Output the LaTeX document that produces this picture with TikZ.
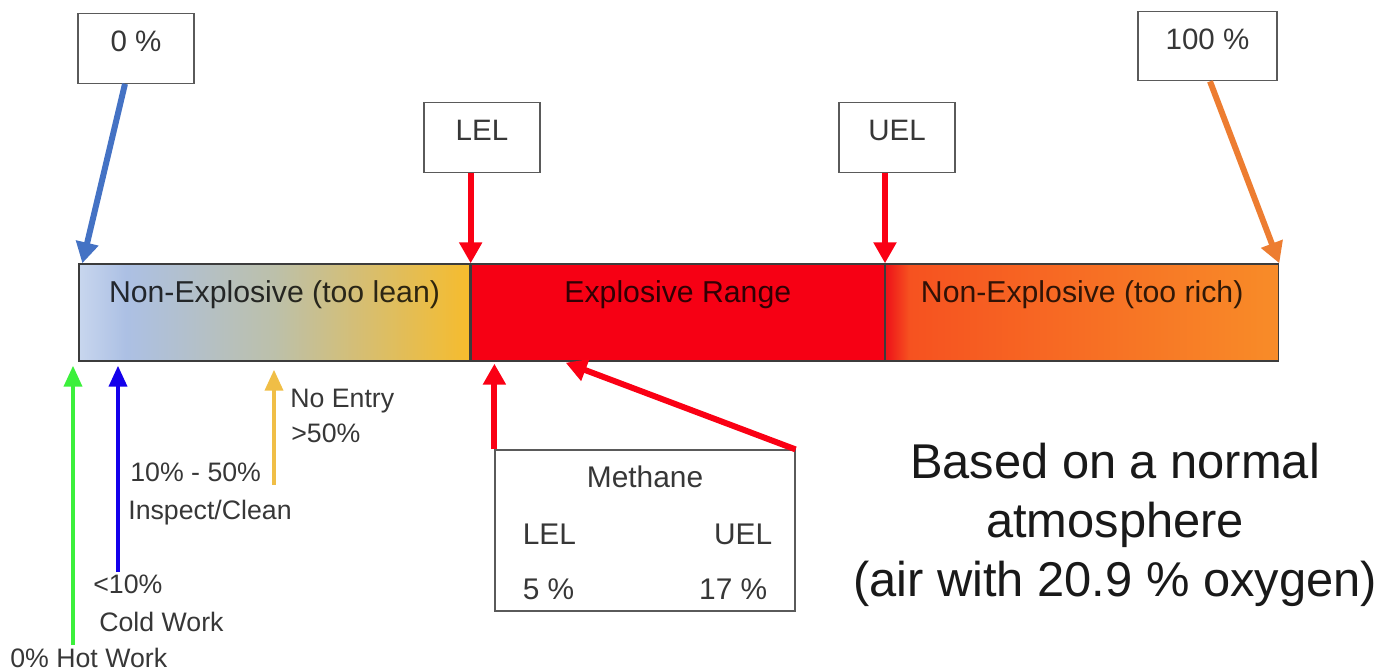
\documentclass[tikz,border=0pt]{standalone}
\usepackage{fontspec}
\setmainfont{Liberation Sans}
\usetikzlibrary{positioning,arrows.meta}

\definecolor{txtgray}{RGB}{55,55,55}
\definecolor{boxgray}{RGB}{90,90,90}
\definecolor{bargray}{RGB}{60,60,60}
\definecolor{topblue}{RGB}{68,114,196}
\definecolor{fullorange}{RGB}{237,125,49}
\definecolor{redarrow}{RGB}{250,0,20}
\definecolor{boomred}{RGB}{246,0,20}
\definecolor{hotgreen}{RGB}{60,240,60}
\definecolor{coldblue}{RGB}{20,0,235}
\definecolor{entryyellow}{RGB}{240,190,70}
\definecolor{lean1}{RGB}{200,214,238}
\definecolor{lean2}{RGB}{172,192,228}
\definecolor{lean3}{RGB}{188,192,170}
\definecolor{lean4}{RGB}{246,188,45}
\definecolor{rich1}{RGB}{238,18,25}
\definecolor{rich2}{RGB}{246,82,32}
\definecolor{rich3}{RGB}{248,140,40}

\pgfdeclarehorizontalshading{leanshade}{100bp}{color(0bp)=(lean1); color(25bp)=(lean1);
  color(31bp)=(lean2); color(50bp)=(lean3); color(75bp)=(lean4); color(100bp)=(lean4)}
\pgfdeclarehorizontalshading{richshade}{100bp}{color(0bp)=(rich1); color(25bp)=(rich1);
  color(28bp)=(rich2); color(75bp)=(rich3); color(100bp)=(rich3)}

\begin{document}
\begin{tikzpicture}[x=0.02cm,y=-0.02cm,
  pctbox/.style={draw=boxgray,line width=0.7pt,fill=white,inner sep=0pt,
    minimum width=2.32cm,text height=0.76cm,text depth=0.63cm,
    font=\fontsize{16.8}{20}\selectfont,text=txtgray},
  barpart/.style={draw=bargray,line width=0.8pt,inner sep=0pt,
    minimum width=7.82cm,minimum height=1.94cm,text height=0.76cm,text depth=1.18cm,
    font=\fontsize{17.2}{20}\selectfont,text=black,text opacity=0.8},
  bigarrow/.style={line width=3.4pt,-{Triangle[width=0.44cm,length=0.42cm]}},
  smallarrow/.style={line width=2.2pt,-{Triangle[width=0.36cm,length=0.42cm]}},
  note/.style={anchor=base west,inner sep=0pt,font=\fontsize{15.2}{18}\selectfont,text=txtgray},
  inbox/.style={inner sep=0pt,font=\fontsize{17}{20}\selectfont,text=txtgray}]
\useasboundingbox (0,0) rectangle (1395,670);

% the bar
\node[barpart,shading=leanshade] (lean) at (274.5,312.5) {Non-Explosive (too lean)};
\node[barpart,fill=boomred,minimum width=8.26cm,right=0pt of lean] (boom) {Explosive Range};
\node[barpart,shading=richshade,minimum width=7.86cm,right=0pt of boom] (rich) {Non-Explosive (too rich)};

% limits above the bar
\node[pctbox] (zero) at (136,48.5) {0 \%};
\node[pctbox,minimum width=2.78cm] (full) at (1207.5,46) {100 \%};
\node[pctbox] (lel) at (482,137.5) {LEL};
\node[pctbox] (uel) at (897,137.5) {UEL};

\draw[bigarrow,topblue] ([xshift=-0.22cm]zero.south) -- ([xshift=0.08cm]lean.north west);
\draw[bigarrow,fullorange] ([xshift=0.05cm]full.south) -- (rich.north east);
\draw[bigarrow,redarrow] (lel.south -| lean.east) -- (lean.north east);
\draw[bigarrow,redarrow] (uel.south -| boom.east) -- (boom.north east);

% work levels below the bar
\coordinate (hotfoot) at (73,645);
\coordinate (coldfoot) at (118,572);
\coordinate (entryfoot) at (274,485);
\draw[smallarrow,hotgreen] (hotfoot) -- ([yshift=-0.08cm]hotfoot |- lean.south);
\draw[smallarrow,coldblue] (coldfoot) -- ([yshift=-0.08cm]coldfoot |- lean.south);
\draw[smallarrow,entryyellow] (entryfoot) -- ([yshift=-0.16cm]entryfoot |- lean.south);

\node[note] (noentry) at (290,407) {No Entry};
\node[note] (gt50) at (291,442) {>50\%};
\node[note] (mid) at (130,481) {10\% - 50\%};
\node[note] (clean) at (128,519) {Inspect/Clean};
\node[note] (lt10) at (93,593) {<10\%};
\node[note] (cold) at (99,631) {Cold Work};
\node[note] (hot) at (10,667) {0\% Hot Work};

% methane
\node[draw=boxgray,line width=0.7pt,minimum width=6cm,minimum height=3.22cm,inner sep=0pt] (methane) at (645,530.5) {};
\node[inbox,anchor=base] (mname) at ([yshift=-0.76cm]methane.north) {Methane};
\node[inbox,anchor=base west] (mlel) at ([xshift=0.56cm,yshift=-1.9cm]methane.north west) {LEL};
\node[inbox,anchor=base east] (muel) at ([xshift=-0.46cm,yshift=-1.9cm]methane.north east) {UEL};
\node[inbox,anchor=base west] (mlow) at ([xshift=0.56cm,yshift=-3cm]methane.north west) {5 \%};
\node[inbox,anchor=base east] (mhigh) at ([xshift=-0.56cm,yshift=-3cm]methane.north east) {17 \%};

\draw[bigarrow,redarrow] (methane.north west) -- ([yshift=-0.04cm]methane.north west |- boom.south);
\draw[bigarrow,redarrow] (methane.north east) -- ([xshift=1.9cm,yshift=-0.02cm]boom.south west);

\node[align=center,font=\fontsize{27.8}{33.6}\selectfont,text=black!90] (basis) at (1115,525)
  {Based on a normal\\atmosphere\\(air with 20.9 \% oxygen)};
\end{tikzpicture}
\end{document}
